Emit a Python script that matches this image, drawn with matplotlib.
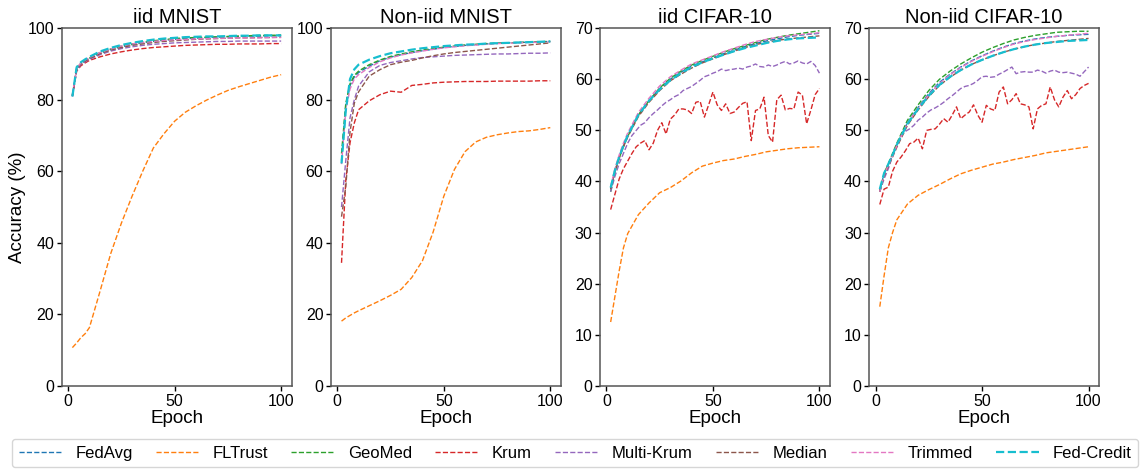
import matplotlib
matplotlib.use("Agg")
import matplotlib.pyplot as plt

plt.rcParams['font.family'] = ['Liberation Sans', 'DejaVu Sans']

methods = ['FedAvg', 'FLTrust', 'GeoMed', 'Krum', 'Multi-Krum', 'Median', 'Trimmed', 'Fed-Credit']
colors = ['#1f77b4', '#ff7f0e', '#2ca02c', '#d62728', '#9467bd', '#8c564b', '#e377c2', '#17becf']

ep = [2, 4, 6, 8, 10, 15, 20, 25, 30, 35, 40, 45, 50, 55, 60, 65, 70, 75, 80, 85, 90, 95, 100]
ep_fine = list(range(2, 101, 2))

# ---- iid MNIST ----
iid_mnist = {
    'FedAvg': [81, 88.5, 90, 90.8, 91.5, 93, 94, 94.8, 95.4, 95.9, 96.3, 96.6, 96.9, 97.1, 97.2, 97.4, 97.5, 97.6, 97.7, 97.8, 97.8, 97.9, 97.9],
    'FLTrust': [10.7, 12, 13.5, 14.6, 16.3, 26.5, 37, 45.5, 53, 60, 66.5, 70.5, 74, 76.5, 78.3, 79.9, 81.3, 82.6, 83.6, 84.5, 85.4, 86.3, 87.0],
    'GeoMed': [81.2, 88.8, 90.2, 91, 91.7, 93.2, 94.2, 95, 95.6, 96.1, 96.5, 96.8, 97.1, 97.3, 97.4, 97.5, 97.6, 97.7, 97.8, 97.9, 98, 98, 98.1],
    'Krum': [81, 88, 89.5, 90.3, 91, 92, 92.8, 93.4, 93.9, 94.3, 94.6, 94.8, 95, 95.2, 95.3, 95.4, 95.5, 95.5, 95.6, 95.6, 95.6, 95.7, 95.7],
    'Multi-Krum': [81, 88.2, 89.8, 90.6, 91.3, 92.6, 93.6, 94.3, 94.8, 95.2, 95.5, 95.7, 95.9, 96, 96.1, 96.2, 96.3, 96.3, 96.4, 96.4, 96.4, 96.4, 96.4],
    'Median': [81.3, 88.5, 90, 90.8, 91.5, 92.9, 93.9, 94.6, 95.2, 95.6, 96, 96.3, 96.5, 96.7, 96.9, 97, 97.1, 97.2, 97.3, 97.3, 97.4, 97.4, 97.5],
    'Trimmed': [81.5, 88.8, 90.3, 91.1, 91.8, 93.2, 94.2, 95, 95.6, 96, 96.3, 96.6, 96.8, 96.9, 97, 97.1, 97.2, 97.2, 97.3, 97.3, 97.3, 97.4, 97.4],
    'Fed-Credit': [80.9, 89.1, 90.5, 91.3, 92, 93.5, 94.5, 95.3, 95.9, 96.4, 96.8, 97.1, 97.3, 97.5, 97.6, 97.7, 97.7, 97.8, 97.9, 97.9, 98, 98, 98],
}

# ---- Non-iid MNIST ----
noniid_mnist = {
    'FedAvg': [63, 78.5, 84, 86.4, 87.6, 89.4, 90.9, 91.9, 92.6, 93.2, 93.7, 94.1, 94.6, 94.9, 95.2, 95.4, 95.6, 95.8, 95.9, 96, 96.1, 96.2, 96.3],
    'FLTrust': [18.1, 19, 19.7, 20.4, 21, 22.4, 23.8, 25.3, 27, 30.3, 35, 43, 53, 60.5, 65.5, 68.2, 69.5, 70.2, 70.7, 71.1, 71.3, 71.7, 72.2],
    'GeoMed': [65, 79, 84.5, 86.8, 88, 89.8, 91.1, 92.1, 92.8, 93.4, 93.9, 94.3, 94.7, 95, 95.3, 95.5, 95.7, 95.8, 95.9, 96, 96.1, 96.2, 96.3],
    'Krum': [34.4, 57.5, 68, 73.5, 77.2, 79.7, 81.4, 82.4, 82.1, 84, 84.3, 84.7, 84.9, 85, 85.1, 85.1, 85.1, 85.2, 85.2, 85.2, 85.2, 85.3, 85.3],
    'Multi-Krum': [50, 63, 75, 80, 83.8, 87.8, 89.6, 90.4, 90.9, 91.4, 91.8, 92, 92.2, 92.4, 92.5, 92.6, 92.7, 92.8, 92.8, 92.9, 93, 93, 93.1],
    'Median': [47.3, 55.7, 71, 79, 82.2, 86.6, 88.4, 89.8, 90.5, 91, 91.7, 92.3, 92.8, 93.2, 93.5, 93.8, 94.1, 94.4, 94.7, 95, 95.3, 95.6, 95.9],
    'Trimmed': [62, 77, 83, 85.8, 87, 89, 90.6, 91.7, 92.5, 93.1, 93.6, 94.1, 94.5, 94.8, 95.1, 95.3, 95.5, 95.7, 95.8, 95.9, 96, 96.1, 96.2],
    'Fed-Credit': [62.2, 77, 85.8, 88.5, 89.8, 91.2, 92.2, 93, 93.5, 94, 94.4, 94.7, 95, 95.2, 95.4, 95.5, 95.7, 95.8, 95.9, 96, 96.1, 96.2, 96.3],
}

# ---- iid CIFAR-10 ----
iid_cifar = {
    'FedAvg': [38.5, 42, 44.8, 47, 49, 53, 55.8, 58.2, 60, 61.4, 62.6, 63.4, 64.2, 65, 65.7, 66.4, 67, 67.5, 67.9, 68.3, 68.6, 68.8, 69.0],
    'FLTrust': [12.5, 17.5, 22.5, 27, 29.8, 33.5, 35.8, 37.8, 38.8, 40.1, 41.7, 43, 43.6, 44.1, 44.4, 44.9, 45.3, 45.8, 46.1, 46.4, 46.6, 46.7, 46.8],
    'GeoMed': [38.0, 41.8, 44.6, 46.8, 48.8, 53, 55.8, 58.3, 60.2, 61.6, 62.8, 63.7, 64.5, 65.3, 66, 66.6, 67.2, 67.8, 68.2, 68.6, 68.9, 69.2, 69.5],
    'Median': [38.5, 42, 44.5, 46.8, 48.7, 52.7, 55.5, 57.8, 59.7, 61, 62.2, 63.2, 64, 64.8, 65.5, 66.2, 66.8, 67.2, 67.6, 67.9, 68.1, 68.3, 68.5],
    'Trimmed': [39, 42.5, 45.2, 47.5, 49.5, 53.5, 56.3, 58.7, 60.5, 61.8, 63, 63.8, 64.6, 65.4, 66.1, 66.8, 67.4, 67.8, 68.2, 68.5, 68.7, 68.9, 69.1],
    'Fed-Credit': [38.8, 42.2, 44.8, 47, 49, 53, 55.8, 58, 59.8, 61.2, 62.4, 63.3, 64.1, 64.8, 65.5, 66.1, 66.6, 67.1, 67.5, 67.8, 68, 68.1, 68.2],
}
iid_cifar_krum = [34.5, 37.5, 40.5, 42.5, 44, 45.5, 46.8, 47.5, 48, 46.2,
                  47.5, 50, 51.5, 49.3, 52.2, 53, 54.2, 54.2, 54, 53.3,
                  55.5, 55.7, 52.6, 55, 57.5, 55, 53.9, 55.2, 53.3, 53.6,
                  54.5, 55.3, 55.6, 48, 53.9, 54.2, 56.5, 49, 47.7, 56,
                  56.9, 54, 54.3, 54.2, 57.5, 56.9, 51.3, 54, 57, 58.2]
iid_cifar_mkrum = [38, 41, 43.5, 45.5, 47.5, 49, 50, 51, 51.5, 52.5,
                   53.3, 54, 54.8, 55.5, 56, 56.6, 57, 57.8, 58.2, 58.6,
                   59.2, 59.8, 60.5, 60.8, 61.2, 61.5, 62, 61.7, 61.9, 62,
                   62.2, 62, 62.4, 62.6, 63, 62.5, 62.4, 62.8, 62.5, 62.8,
                   63.2, 63.5, 63, 63.2, 63.6, 63.2, 63, 63.5, 62.7, 61.2]

# ---- Non-iid CIFAR-10 ----
noniid_cifar = {
    'FedAvg': [38.3, 41.5, 43.3, 45.2, 47.2, 51.5, 54.5, 57.2, 59.4, 61, 62.4, 63.6, 64.6, 65.5, 66.3, 67, 67.5, 67.9, 68.2, 68.4, 68.6, 68.7, 68.8],
    'FLTrust': [15.5, 21.5, 27, 30, 32.5, 35.6, 37.3, 38.4, 39.4, 40.5, 41.5, 42.2, 42.8, 43.4, 43.8, 44.3, 44.7, 45.1, 45.6, 45.9, 46.2, 46.5, 46.8],
    'GeoMed': [38, 41.5, 43.5, 45.5, 47.5, 52, 55, 57.8, 60, 61.6, 63, 64.2, 65.3, 66.2, 67, 67.7, 68.2, 68.6, 68.9, 69.2, 69.3, 69.4, 69.4],
    'Median': [38, 41, 43, 44.8, 46.7, 51, 54, 56.6, 58.8, 60.4, 61.8, 62.9, 63.8, 64.6, 65.3, 65.9, 66.4, 66.8, 67.1, 67.4, 67.6, 67.8, 68.0],
    'Trimmed': [38, 41.3, 43.2, 45, 47, 51.4, 54.4, 57, 59.2, 60.9, 62.3, 63.5, 64.5, 65.4, 66.2, 66.9, 67.4, 67.8, 68.1, 68.4, 68.6, 68.8, 69.0],
    'Fed-Credit': [38.5, 41.6, 43.4, 45.2, 47.2, 51.3, 54.2, 56.8, 58.9, 60.5, 61.8, 62.9, 63.8, 64.6, 65.3, 65.9, 66.4, 66.8, 67.1, 67.3, 67.5, 67.6, 67.7],
}
noniid_cifar_krum = [35.5, 38.5, 38.9, 42, 43.8, 44.8, 46, 47.4, 47.7, 48.5,
                     46.4, 50, 50.2, 50.3, 51.2, 52.3, 51.6, 53, 54.6, 52.3,
                     53, 53.6, 55, 53, 51.6, 54.9, 54.2, 53.9, 57.5, 58.5,
                     55.2, 56, 57.2, 55.2, 55, 54.6, 50.3, 54.2, 54.9, 55.2,
                     58.5, 56, 54.6, 56.5, 57.8, 56.2, 57, 58.2, 58.8, 59.2]
noniid_cifar_mkrum = [38, 40.5, 42.5, 45, 47, 49, 49.8, 50.3, 51, 52,
                      52.6, 53.4, 54, 54.4, 54.9, 55.5, 56.2, 56.8, 57.5, 58.2,
                      58.6, 58.8, 59.2, 59.8, 60.5, 60.6, 60.4, 60.5, 61, 61.4,
                      61.9, 62.4, 61.1, 61.4, 61.5, 61.4, 61.4, 61.8, 61.6, 61.2,
                      61.6, 61.8, 61.4, 61.3, 61.4, 61.2, 61.0, 60.6, 61.5, 62.4]

panels = [
    ('iid MNIST', iid_mnist, {}, (0, 100), [0, 20, 40, 60, 80, 100]),
    ('Non-iid MNIST', noniid_mnist, {}, (0, 100), [0, 20, 40, 60, 80, 100]),
    ('iid CIFAR-10', iid_cifar, {'Krum': iid_cifar_krum, 'Multi-Krum': iid_cifar_mkrum},
     (0, 70), [0, 10, 20, 30, 40, 50, 60, 70]),
    ('Non-iid CIFAR-10', noniid_cifar, {'Krum': noniid_cifar_krum, 'Multi-Krum': noniid_cifar_mkrum},
     (0, 70), [0, 10, 20, 30, 40, 50, 60, 70]),
]

fig, axes = plt.subplots(1, 4, figsize=(11.43, 4.70), dpi=100)
fig.subplots_adjust(left=0.0542, right=0.9615, bottom=0.179, top=0.94, wspace=0.172)

handles = []
for i, (ax, (title, coarse, fine, ylim, yt)) in enumerate(zip(axes, panels)):
    for m, c in zip(methods, colors):
        lw = 1.6 if m == 'Fed-Credit' else 1.0
        if m in fine:
            x, y = ep_fine, fine[m]
        else:
            x, y = ep, coarse[m]
        ln, = ax.plot(x, y, linestyle='--', color=c, linewidth=lw, label=m)
        if i == 0:
            handles.append(ln)
    ax.set_ylim(*ylim)
    ax.set_yticks(yt)
    ax.set_xticks([0, 50, 100])
    ax.set_title(title, fontsize=14.5, pad=4)
    ax.set_xlabel('Epoch', fontsize=13.5, labelpad=1)
    ax.tick_params(labelsize=11.5, length=3.5, width=1, pad=2)
    for s in ax.spines.values():
        s.set_color('#555555')
        s.set_linewidth(1.1)
axes[0].set_ylabel('Accuracy (%)', fontsize=13.5, labelpad=1.5)

leg = fig.legend(handles, methods, loc='lower left', ncol=8, mode='expand',
                 bbox_to_anchor=(0.0105, 0.006, 0.985, 0.064), fontsize=12,
                 handlelength=2.6, frameon=True, borderaxespad=0.0)
leg.get_frame().set_edgecolor('#cccccc')

fig.savefig('out.png', dpi=100)
